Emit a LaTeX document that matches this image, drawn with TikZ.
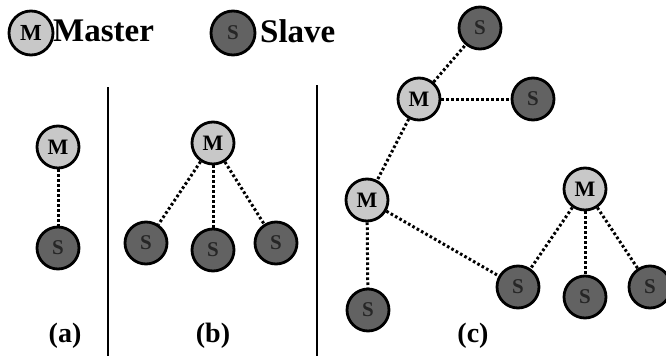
\documentclass[tikz,border=0pt]{standalone}
\usepackage{fontspec}
\setmainfont{Liberation Serif}
\definecolor{mastergray}{RGB}{200,200,200}
\definecolor{slavegray}{RGB}{98,98,98}

\begin{document}
\begin{tikzpicture}[x=1pt, y=-1pt,
    master/.style={circle, draw, line width=2.8pt, fill=mastergray, minimum size=42pt, inner sep=0pt, font=\fontsize{22}{22}\selectfont\bfseries},
    slave/.style={circle, draw, line width=2.8pt, fill=slavegray, minimum size=42pt, inner sep=0pt, font=\fontsize{21}{21}\selectfont\bfseries, text=black!85},
    link/.style={line width=3pt, dash pattern=on 2.6pt off 2.4pt},
    caption/.style={font=\fontsize{28}{28}\selectfont\bfseries}]
    \useasboundingbox (0,0) rectangle (666,356);

    % Legend
    \node[master, minimum size=44pt, font=\fontsize{23}{23}\selectfont\bfseries] (lm) at (31,33) {M};
    \node[anchor=west, inner sep=0pt, font=\fontsize{33}{33}\selectfont\bfseries] (lmt) at (53,31) {Master};
    \node[slave, minimum size=44pt, font=\fontsize{21}{21}\selectfont\bfseries] (ls) at (233,33) {S};
    \node[anchor=west, inner sep=0pt, font=\fontsize{33}{33}\selectfont\bfseries] (lst) at (260,31) {Slave};

    % Separators
    \draw[line width=2.8pt] (108,87) -- (108,356);
    \draw[line width=2.8pt] (317,85) -- (317,356);

    % Draw nodes (a)
    \node[master] (a1) at (58,147) {M};
    \node[slave] (a2) at (58,248) {S};

    % Draw nodes (b)
    \node[master] (b1) at (213,143) {M};
    \node[slave] (b2) at (146,243) {S};
    \node[slave] (b3) at (213,250) {S};
    \node[slave] (b4) at (276,243) {S};

    % Draw nodes (c)
    \node[slave] (c1) at (480,28) {S};
    \node[master] (c2) at (419,99) {M};
    \node[slave] (c3) at (533,99) {S};
    \node[master] (c4) at (367,200) {M};
    \node[slave] (c5) at (368,310) {S};
    \node[master] (c6) at (585,189) {M};
    \node[slave] (c7) at (518,287) {S};
    \node[slave] (c8) at (585,297) {S};
    \node[slave] (c9) at (650,287) {S};

    % Draw connections
    \draw[link] (a1) -- (a2);
    \draw[link] (b1) -- (b2);
    \draw[link] (b1) -- (b3);
    \draw[link] (b1) -- (b4);
    \draw[link] (c2) -- (c1);
    \draw[link] (c2) -- (c3);
    \draw[link] (c2) -- (c4);
    \draw[link] (c4) -- (c5);
    \draw[link] (c4) -- (c7);
    \draw[link] (c6) -- (c7);
    \draw[link] (c6) -- (c8);
    \draw[link] (c6) -- (c9);

    % Labels
    \node[caption] (la) at (65,336) {(a)};
    \node[caption] (lb) at (213,336) {(b)};
    \node[caption] (lc) at (473,336) {(c)};
\end{tikzpicture}
\end{document}
